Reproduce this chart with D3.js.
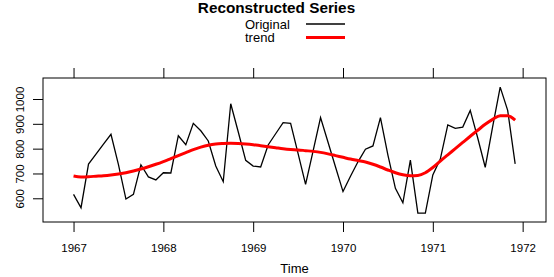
<!DOCTYPE html>
<html>
<head>
<meta charset="utf-8">
<script src="https://cdn.jsdelivr.net/npm/d3@7"></script>
<style>
  body { margin: 0; background: #fff; }
  text { font-family: "Liberation Sans", Arial, sans-serif; }
</style>
</head>
<body>
<script>
var w = 554,
    h = 277;

var startYear = 1967;
var yearTicks = [1967, 1968, 1969, 1970, 1971, 1972];
var valueTicks = [600, 700, 800, 900, 1000];

var original = [
  616, 562, 738, 778, 818, 858, 736, 597, 616, 735, 686, 674,
  703, 702, 852, 816, 902, 872, 831, 730, 667, 981, 868, 753,
  730, 726, 815, 860, 905, 902, 780, 656, 790, 925, 826, 726,
  627, 689, 747, 798, 811, 925, 774, 640, 582, 754, 540, 540,
  694, 758, 896, 882, 887, 954, 843, 725, 890, 1048, 954, 739
];

var trend = [
  690, 686, 687, 689, 691, 694, 698, 703, 710, 718, 727, 737,
  748, 760, 772, 784, 796, 806, 814, 819, 821, 822, 821, 819,
  816, 812, 808, 804, 800, 797, 795, 792, 789, 785, 779, 772,
  765, 758, 752, 746, 737, 726, 714, 703, 695, 691, 692, 703,
  724, 750, 775, 800, 825, 850, 874, 898, 918, 933, 933, 915
];

var legendItems = [
  { name: "Original", color: "black", width: 1.3 },
  { name: "trend", color: "red", width: 3 }
];

// plot box (careful: "top" is taken by window.top)
var boxL = 43, boxR = 546, boxT = 78, boxB = 222;

var x = d3.scaleLinear().domain([1966.66, 1972.26]).range([boxL, boxR]);
var y = d3.scaleLinear().domain([504.5, 1084.6]).range([boxB, boxT]);

function toPoints(values) {
  return values.map(function(v, i) { return { t: startYear + i / 12, v: v }; });
}

var svg = d3.select("body").append("svg").
  attr("width", w).
  attr("height", h);

// title + key
svg.append("text").
  attr("x", 276.5).
  attr("y", 13).
  attr("text-anchor", "middle").
  style("font-size", "15.3px").
  style("font-weight", "bold").
  text("Reconstructed Series");

var key = svg.selectAll("g.key").data(legendItems).enter().append("g").
  attr("class", "key").
  attr("transform", function(d, i) { return "translate(0," + (i * 13.5) + ")"; });

key.append("text").
  attr("x", 245).
  attr("y", 28.5).
  style("font-size", "13px").
  text(function(d) { return d.name; });

key.append("line").
  attr("x1", 306).
  attr("x2", 345).
  attr("y1", 24).
  attr("y2", 24).
  attr("stroke", function(d) { return d.color; }).
  attr("stroke-width", function(d) { return d.width; });

// axes
var tickLen = 10;

var bottomAxis = svg.append("g").
  attr("transform", "translate(0," + boxB + ")").
  call(d3.axisBottom(x).tickValues(yearTicks).tickFormat(d3.format("d")).tickSize(tickLen));

var topAxis = svg.append("g").
  attr("transform", "translate(0," + boxT + ")").
  call(d3.axisTop(x).tickValues(yearTicks).tickFormat("").tickSize(tickLen));

var leftAxis = svg.append("g").
  attr("transform", "translate(" + boxL + ",0)").
  call(d3.axisLeft(y).tickValues(valueTicks).tickFormat(d3.format("d")).tickSize(tickLen));

[bottomAxis, topAxis, leftAxis].forEach(function(g) {
  g.select(".domain").remove();
  g.selectAll("line").attr("stroke", "black").attr("stroke-width", 1);
  g.selectAll("text").attr("fill", "black").style("font-size", "11.5px");
});

bottomAxis.selectAll("text").attr("y", 22);

leftAxis.selectAll(".tick text").
  attr("x", null).
  attr("dy", null).
  attr("text-anchor", "middle").
  attr("transform", "translate(-19.5,0) rotate(-90)");

svg.append("rect").
  attr("x", boxL).
  attr("y", boxT).
  attr("width", boxR - boxL).
  attr("height", boxB - boxT).
  attr("fill", "none").
  attr("stroke", "black").
  attr("stroke-width", 1);

svg.append("text").
  attr("x", (boxL + boxR) / 2).
  attr("y", 273).
  attr("text-anchor", "middle").
  style("font-size", "13px").
  text("Time");

// series
var line = d3.line().
  x(function(d) { return x(d.t); }).
  y(function(d) { return y(d.v); });

svg.append("path").
  datum(toPoints(original)).
  attr("d", line).
  attr("fill", "none").
  attr("stroke", "black").
  attr("stroke-width", 1.3);

svg.append("path").
  datum(toPoints(trend)).
  attr("d", line.curve(d3.curveMonotoneX)).
  attr("fill", "none").
  attr("stroke", "red").
  attr("stroke-width", 3);
</script>
</body>
</html>
